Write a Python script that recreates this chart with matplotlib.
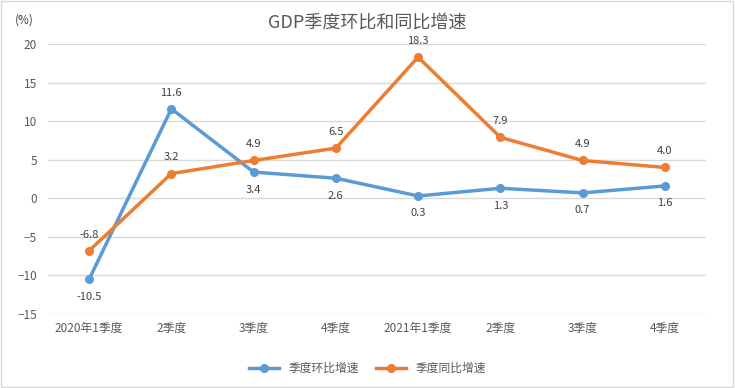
import matplotlib.pyplot as plt
from matplotlib.patches import Rectangle

plt.rcParams['font.family'] = ['Noto Sans CJK SC', 'DejaVu Sans']

quarters = ['2020年1季度', '2季度', '3季度', '4季度', '2021年1季度', '2季度', '3季度', '4季度']
qoq = [-10.5, 11.6, 3.4, 2.6, 0.3, 1.3, 0.7, 1.6]
yoy = [-6.8, 3.2, 4.9, 6.5, 18.3, 7.9, 4.9, 4.0]
qoq_name = '季度环比增速'
yoy_name = '季度同比增速'
yticks = [20, 15, 10, 5, 0, -5, -10, -15]

blue = '#5B9BD5'
orange = '#ED7D31'
txt = '#595959'

fig = plt.figure(figsize=(7.35, 3.88), dpi=100)
ax = fig.add_axes([0.0653, 0.1907, 0.8952, 0.6959])
fig.patches.append(Rectangle((0.002, 0.003), 0.995, 0.994, transform=fig.transFigure,
                             fill=False, edgecolor='#D9D9D9', linewidth=1))

x = list(range(len(quarters)))
ax.plot(x, qoq, color=blue, lw=2.5, marker='o', ms=5.5, label=qoq_name, zorder=3)
ax.plot(x, yoy, color=orange, lw=2.5, marker='o', ms=5.5, label=yoy_name, zorder=3)

for i, v in enumerate(qoq):
    off = 8 if i == 1 else -9
    ax.annotate(f'{v:.1f}', (i, v), textcoords='offset points', xytext=(0, off),
                ha='center', va='bottom' if off > 0 else 'top', fontsize=8, color='#404040')
for i, v in enumerate(yoy):
    ax.annotate(f'{v:.1f}', (i, v), textcoords='offset points', xytext=(0, 8),
                ha='center', va='bottom', fontsize=8, color='#404040')

ax.set_xlim(-0.5, len(quarters) - 0.5)
ax.set_ylim(-15, 20)
ax.set_yticks(yticks)
ax.set_xticks(x)
ax.set_xticklabels(quarters)
ax.grid(axis='y', color='#D9D9D9', lw=1)
ax.set_axisbelow(True)
for s in ax.spines.values():
    s.set_visible(False)
ax.tick_params(length=0, labelsize=8.5, colors=txt, pad=6)
ax.tick_params(axis='y', pad=8)

fig.text(0.5, 0.943, 'GDP季度环比和同比增速', ha='center', va='center', fontsize=13, color=txt)
fig.text(0.02, 0.948, '(%)', ha='left', va='center', fontsize=8.5, color='#404040')

fig.legend(loc='center', bbox_to_anchor=(0.5, 0.05), ncol=2, frameon=False,
           fontsize=8.5, labelcolor=txt, handlelength=2.5, columnspacing=1.5)

fig.savefig('out.png', dpi=100)
